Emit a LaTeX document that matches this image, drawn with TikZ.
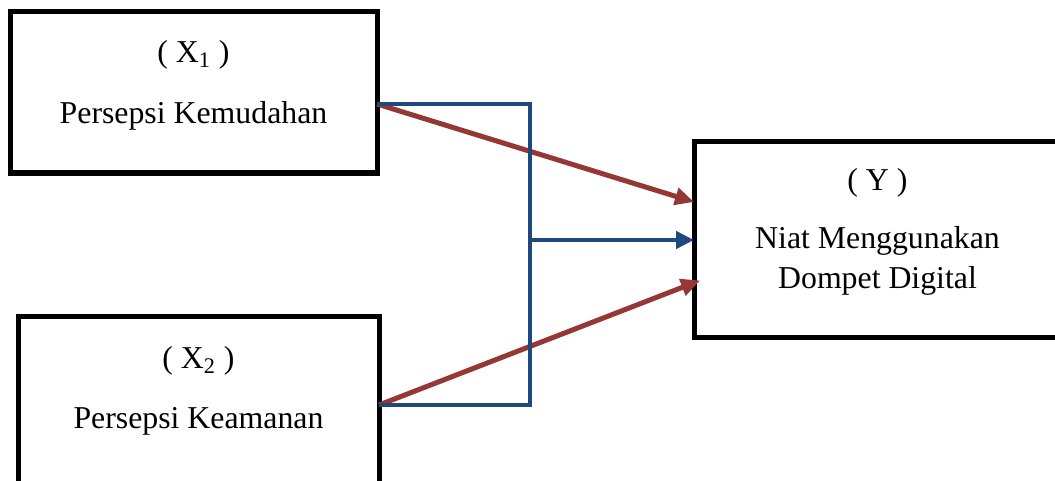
\documentclass[tikz,border=0pt]{standalone}
\usepackage{fontspec}
\setmainfont{Liberation Serif}
\usetikzlibrary{calc,arrows.meta,positioning}
\definecolor{redx}{HTML}{953735}
\definecolor{bluex}{HTML}{1F497D}
\tikzset{
  box/.style={draw=black,line width=2.5pt,inner sep=0pt,outer sep=0pt},
  lbl/.style={align=center,font={\fontsize{15.9}{20}\selectfont}},
  ar/.style={-{Triangle[length=9.5pt,width=8.5pt]},line width=2.5pt,redx},
  bus/.style={line width=2.4pt,bluex}
}

\begin{document}
\begin{tikzpicture}[x=0.5pt,y=-0.5pt]
\clip (0,0) rectangle (1055,481);
\node[box,minimum width=183.5pt,minimum height=80.5pt] (x1) at (193.5,92.5) {};
\node[box,minimum width=180.5pt,minimum height=85pt] (x2) at (198.5,401) {};
\node[box,minimum width=183.5pt,minimum height=97.5pt] (y) at (877.5,239.5) {};
\node[lbl] (x1lbl) at (193.5,85) {( X\textsubscript{1} )\\[10.5pt]Persepsi Kemudahan};
\node[lbl] (x2lbl) at (198.5,390.5) {( X\textsubscript{2} )\\[10pt]Persepsi Keamanan};
\node[lbl] (ylbl) at (877.5,231.5) {( Y )\\[9pt]Niat Menggunakan\\Dompet Digital};
\coordinate (x1out) at ([yshift=-5.75pt]x1.east);
\coordinate (x2out) at ([yshift=-2pt]x2.east);
\coordinate (yin1) at ([yshift=18.75pt]y.west);
\coordinate (yin2) at ([xshift=3pt,yshift=-20.5pt]y.west);
\coordinate (bus) at (530,240);
\draw[ar] (x1out) -- (yin1);
\draw[ar] (x2out) -- (yin2);
\draw[bus] (x1out) -| (bus) |- (x2out);
\draw[bus,-{Triangle[length=9pt,width=8.5pt]}] (bus) -- (bus -| y.west);
\end{tikzpicture}
\end{document}
